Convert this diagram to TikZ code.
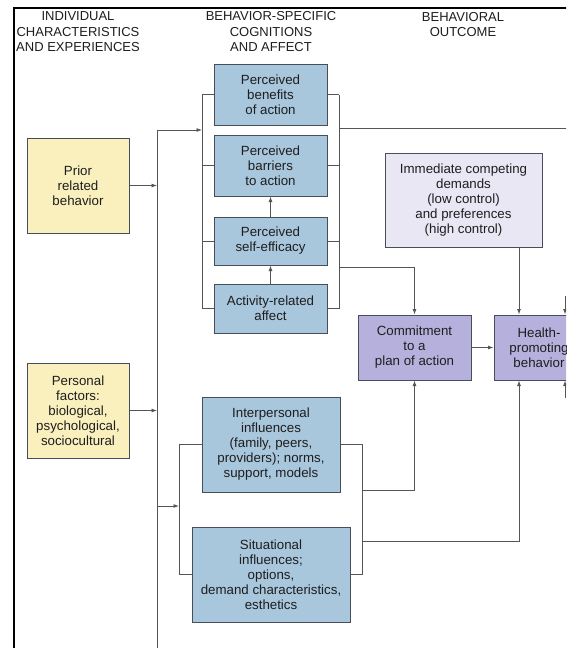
\documentclass[tikz,border=0pt]{standalone}
\usepackage{fontspec}
\setmainfont{Liberation Sans}
\usetikzlibrary{arrows.meta,calc}
\definecolor{yel}{RGB}{250,240,190}
\definecolor{blu}{RGB}{168,198,220}
\definecolor{lav}{RGB}{234,231,245}
\definecolor{pur}{RGB}{182,176,220}
\definecolor{boxline}{RGB}{70,78,90}
\definecolor{lin}{RGB}{85,85,85}
\definecolor{txt}{RGB}{30,30,30}
\begin{document}
\begin{tikzpicture}[x=1pt,y=-1pt,
  box/.style={draw=boxline,line width=1pt,align=center,inner sep=0pt,
    font=\fontsize{13.3}{15}\selectfont,text=txt},
  conn/.style={draw=lin,line width=0.9pt},
  arr/.style={conn,-{Latex[length=5.5pt,width=4pt]}},
  hdr/.style={align=center,inner sep=0pt,font=\fontsize{13}{15.5}\selectfont,text=txt}]
\useasboundingbox (0,0) rectangle (566,648);
\clip (0,0) rectangle (566,648);
\fill[white] (0,0) rectangle (566,648);

% frame
\draw[line width=2pt,black] (14,660) -- (14,8) -- (570,8);

% headers
\node[hdr] (h1) at (78,32) {INDIVIDUAL\\CHARACTERISTICS\\AND EXPERIENCES};
\node[hdr] (h2) at (271,32) {BEHAVIOR-SPECIFIC\\COGNITIONS\\AND AFFECT};
\node[hdr] (h3) at (463,24.5) {BEHAVIORAL\\OUTCOME};

% left column
\node[box,fill=yel,minimum width=102pt,minimum height=95pt] (prior) at (78,185.5) {Prior\\related\\behavior};
\node[box,fill=yel,minimum width=102pt,minimum height=95pt] (personal) at (78,410.5) {Personal\\factors:\\biological,\\psychological,\\sociocultural};

% middle column
\node[box,fill=blu,minimum width=113pt,minimum height=61pt] (benefits) at (270.5,94.5) {Perceived\\benefits\\of action};
\node[box,fill=blu,minimum width=113pt,minimum height=61pt] (barriers) at (270.5,165.5) {Perceived\\barriers\\to action};
\node[box,fill=blu,minimum width=113pt,minimum height=48pt] (efficacy) at (270.5,241) {Perceived\\self-efficacy};
\node[box,fill=blu,minimum width=113pt,minimum height=49pt] (affect) at (270.5,308.5) {Activity-related\\affect};
\node[box,fill=blu,minimum width=138pt,minimum height=95pt] (interp) at (271,444.5) {Interpersonal\\influences\\(family, peers,\\providers); norms,\\support, models};
\node[box,fill=blu,minimum width=158pt,minimum height=95pt] (situ) at (271,574.5) {Situational\\influences;\\options,\\demand characteristics,\\esthetics};

% right column
\node[box,fill=lav,minimum width=157pt,minimum height=94pt] (immediate) at (463.5,200) {Immediate competing\\demands\\(low control)\\and preferences\\(high control)};
\node[box,fill=pur,minimum width=113pt,minimum height=65pt] (commit) at (414.5,347.5) {Commitment\\to a\\plan of action};
\node[box,fill=pur,minimum width=90pt,minimum height=65pt] (health) at (539,347.5) {Health-\\promoting\\behavior};

% trunk
\coordinate (tTop) at (157,130);
\coordinate (tBot) at (157,660);
\draw[conn] (tTop) -- (tBot);
\draw[arr] (prior.east) -- (prior.east -| tTop);
\draw[arr] (personal.east) -- (personal.east -| tTop);

% upper brackets
\coordinate (bL) at (202,0);
\coordinate (bR) at (339,0);
\draw[arr] (tTop) -- (tTop -| bL);
\draw[conn] (benefits.west -| bL) -- (affect.west -| bL);
\draw[conn] (benefits.east -| bR) -- (affect.east -| bR);
\foreach \n in {benefits,barriers,efficacy,affect}{
  \draw[conn] (\n.west -| bL) -- (\n.west);
  \draw[conn] (\n.east) -- (\n.east -| bR);
}
\coordinate (longR) at (570,128);
\draw[conn] (longR -| bR) -- (longR);
\coordinate (kA) at (0,267);
\draw[arr] (kA -| bR) -| (commit.north);

\draw[arr] (efficacy.north) -- (barriers.south);
\draw[arr] (affect.north) -- (efficacy.south);

% outcome
\coordinate (hx) at (519,0);
\draw[arr] (immediate.south -| hx) -- (health.north -| hx);
\draw[arr] (commit.east) -- (health.west);
\coordinate (e1) at (565,296);
\coordinate (e2) at (565,398);
\draw[arr] (e1) -- (health.north -| e1);
\draw[arr] (e2) -- (health.south -| e2);

% lower brackets
\coordinate (lA) at (157,506);
\coordinate (bL2) at (179,0);
\draw[arr] (lA) -- (lA -| bL2);
\draw[conn] (interp.west -| bL2) -- (situ.west -| bL2);
\draw[conn] (interp.west -| bL2) -- (interp.west);
\draw[conn] (situ.west -| bL2) -- (situ.west);
\coordinate (bR2) at (362,0);
\draw[conn] (interp.east) -- (interp.east -| bR2) -- (situ.east -| bR2) -- (situ.east);
\coordinate (lB) at (0,490);
\draw[arr] (lB -| bR2) -| (commit.south);
\coordinate (lC) at (0,541);
\draw[arr] (lC -| bR2) -| (health.south -| hx);
\end{tikzpicture}
\end{document}
